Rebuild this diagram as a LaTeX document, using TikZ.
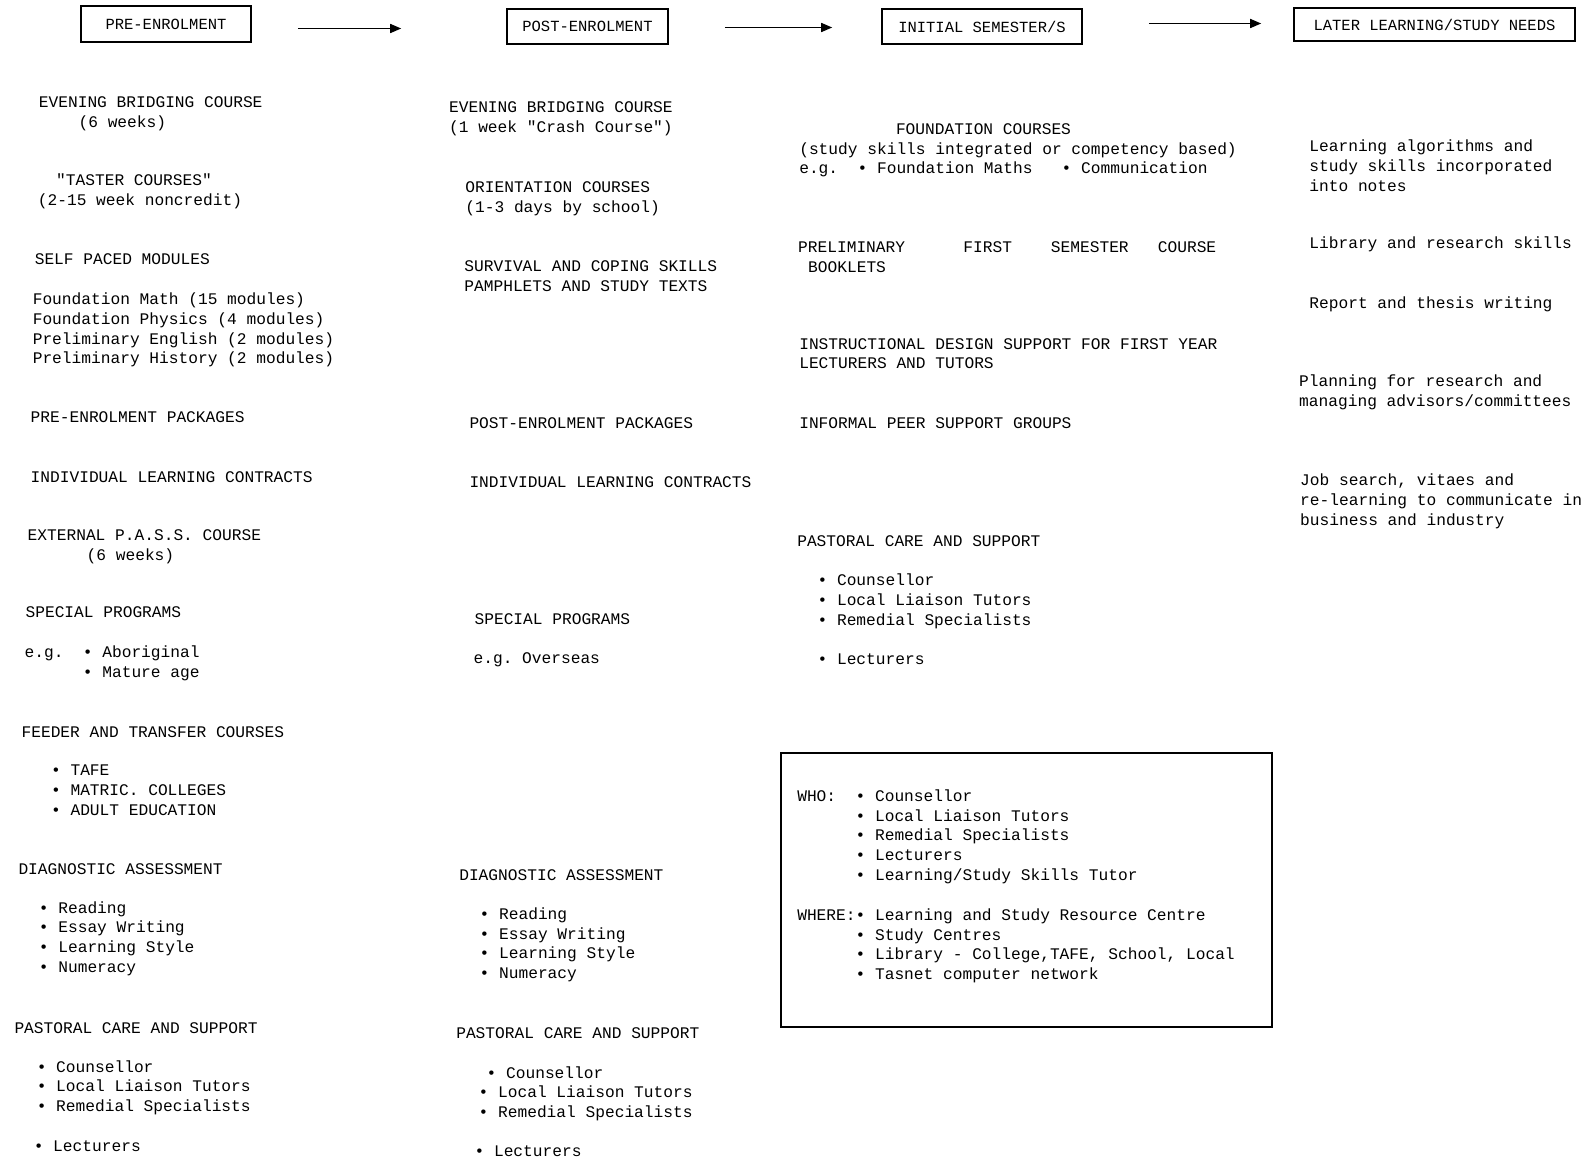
\documentclass[tikz,border=0pt]{standalone}
\usepackage{fontspec}
\setmonofont{Liberation Mono}
\usetikzlibrary{arrows.meta}
\newdimen\chw \chw=9.72pt
\def\bul{\textbullet~}
\def\ind#1{\hspace*{#1\chw}}
\tikzset{
	txt/.style={anchor=base west, inner sep=0pt, align=left, font=\ttfamily\frenchspacing\fontsize{16.2}{19.8}\selectfont},
	stage/.style={draw, line width=1.6pt, inner sep=0pt, font=\ttfamily\fontsize{15.5}{18}\selectfont},
	flow/.style={line width=1.6pt, -{Triangle[length=11pt,width=9pt]}}
}

\begin{document}
\begin{tikzpicture}[x=1pt, y=-1pt]
			%%%%% START %%%%%
			\useasboundingbox[fill=white] (0, 0) rectangle (1596, 1158);
			
			\node[stage, minimum width=170pt, minimum height=36pt] (pre) at (166, 24) {PRE-ENROLMENT};
			\node[stage, minimum width=161pt, minimum height=35pt] (post) at (587.5, 26.5) {POST-ENROLMENT};
			\node[stage, minimum width=200pt, minimum height=35pt] (initial) at (982, 26.5) {INITIAL SEMESTER/S};
			\node[stage, minimum width=281pt, minimum height=33pt] (later) at (1434.5, 24.5) {LATER LEARNING/STUDY NEEDS};
			
			\draw[flow, shorten <=46pt, shorten >=105pt] ([yshift=-4.5pt]pre.east) -- ([yshift=-2pt]post.west);
			\draw[flow, shorten <=56pt, shorten >=49pt] ([yshift=-1pt]post.east) -- ([yshift=-1pt]initial.west);
			\draw[flow, shorten <=66pt, shorten >=32pt] ([yshift=3pt]initial.east) -- ([yshift=1pt]later.west);
			
			% pre-enrolment column (node y = baseline of last line)
			\node[txt] (ebcpre) at (38.7, 127.7) {EVENING BRIDGING COURSE\\\hspace*{39.7pt}(6 weeks)};
			\node[txt] (taster) at (37.7, 205.1) {\hspace*{18.3pt}"TASTER COURSES"\\(2-15 week noncredit)};
			\node[txt] (selfpaced) at (34.6, 264.7) {SELF PACED MODULES};
			\node[txt] (modules) at (32.6, 363.8) {Foundation Math (15 modules)\\Foundation Physics (4 modules)\\Preliminary English (2 modules)\\Preliminary History (2 modules)};
			\node[txt] (prepack) at (30.5, 422.5) {PRE-ENROLMENT PACKAGES};
			\node[txt] (ilcpre) at (30.5, 482.5) {INDIVIDUAL LEARNING CONTRACTS};
			\node[txt] (passpre) at (27.5, 560.3) {EXTERNAL P.A.S.S. COURSE\\\hspace*{59pt}(6 weeks)};
			\node[txt] (specialpre) at (25.4, 617.9) {SPECIAL PROGRAMS};
			\node[txt] (egpre) at (24.4, 677.4) {e.g.~~\bul Aboriginal\\\ind{6}\bul Mature age};
			\node[txt] (feeder) at (21.4, 737) {FEEDER AND TRANSFER COURSES};
			\node[txt] (feederlist) at (50.9, 815.3) {\bul TAFE\\\bul MATRIC. COLLEGES\\\bul ADULT EDUCATION};
			\node[txt] (diagpre) at (18.3, 874.4) {DIAGNOSTIC ASSESSMENT};
			\node[txt] (diaglistpre) at (38.7, 972.5) {\bul Reading\\\bul Essay Writing\\\bul Learning Style\\\bul Numeracy};
			\node[txt] (pastpre) at (14.3, 1033.2) {PASTORAL CARE AND SUPPORT};
			\node[txt] (pastlistpre) at (36.6, 1111.6) {\bul Counsellor\\\bul Local Liaison Tutors\\\bul Remedial Specialists};
			\node[txt] (lectpre) at (33.6, 1151.3) {\bul Lecturers};
			
			% post-enrolment column
			\node[txt] (ebcpost) at (448.9, 132.8) {EVENING BRIDGING COURSE\\(1 week "Crash Course")};
			\node[txt] (orient) at (465.2, 212.2) {ORIENTATION COURSES\\(1-3 days by school)};
			\node[txt] (survival) at (464.2, 291.6) {SURVIVAL AND COPING SKILLS\\PAMPHLETS AND STUDY TEXTS};
			\node[txt] (postpack) at (469.3, 428.6) {POST-ENROLMENT PACKAGES};
			\node[txt] (ilcpost) at (469.3, 487.6) {INDIVIDUAL LEARNING CONTRACTS};
			\node[txt] (specialpost) at (474.4, 624) {SPECIAL PROGRAMS};
			\node[txt] (egpost) at (473.4, 663.7) {e.g. Overseas};
			\node[txt] (diagpost) at (459.1, 880.6) {DIAGNOSTIC ASSESSMENT};
			\node[txt] (diaglistpost) at (479.5, 978.7) {\bul Reading\\\bul Essay Writing\\\bul Learning Style\\\bul Numeracy};
			\node[txt] (pastpost) at (456.1, 1038.4) {PASTORAL CARE AND SUPPORT};
			\node[txt] (pastlistpost) at (478.5, 1117.6) {\hspace*{8pt}\bul Counsellor\\\bul Local Liaison Tutors\\\bul Remedial Specialists};
			\node[txt] (lectpost) at (474.4, 1156.4) {\bul Lecturers};
			
			% initial semester column
			\node[txt] (found) at (799.1, 174) {\hspace*{96.7pt}FOUNDATION COURSES\\(study skills integrated or competency based)\\e.g.~~\bul Foundation Maths~~~\bul Communication};
			\node[txt] (prelim) at (798, 272.3) {PRELIMINARY~~~~~~FIRST~~~~SEMESTER~~~COURSE\\\hspace*{10pt}BOOKLETS};
			\node[txt] (instr) at (799.1, 369) {INSTRUCTIONAL DESIGN SUPPORT FOR FIRST YEAR\\LECTURERS AND TUTORS};
			\node[txt] (informal) at (799.1, 428.6) {INFORMAL PEER SUPPORT GROUPS};
			\node[txt] (pastini) at (797.1, 546.7) {PASTORAL CARE AND SUPPORT};
			\node[txt] (pastlistini) at (817.4, 625) {\bul Counsellor\\\bul Local Liaison Tutors\\\bul Remedial Specialists};
			\node[txt] (lectini) at (817.4, 664.8) {\bul Lecturers};
			
			\draw[line width=2pt] (781, 753) rectangle (1272, 1027);
			\node[txt] (who) at (797.1, 880.4) {WHO:~~\bul Counsellor\\\ind{6}\bul Local Liaison Tutors\\\ind{6}\bul Remedial Specialists\\\ind{6}\bul Lecturers\\\ind{6}\bul Learning/Study Skills Tutor};
			\node[txt] (where) at (797.1, 979.7) {WHERE:\bul Learning and Study Resource Centre\\\ind{6}\bul Study Centres\\\ind{6}\bul Library - College,TAFE, School, Local\\\ind{6}\bul Tasnet computer network};
			
			% later needs column
			\node[txt] (learnalg) at (1309.2, 191.3) {Learning algorithms and\\study skills incorporated\\into notes};
			\node[txt] (library) at (1309.2, 248.4) {Library and research skills};
			\node[txt] (report) at (1309.2, 308.5) {Report and thesis writing};
			\node[txt] (planning) at (1299, 406.6) {Planning for research and\\managing advisors/committees};
			\node[txt] (jobsearch) at (1300, 525.2) {Job search, vitaes and\\re-learning to communicate in\\business and industry};
			
			%%%%% END %%%%%
\end{tikzpicture}
\end{document}
